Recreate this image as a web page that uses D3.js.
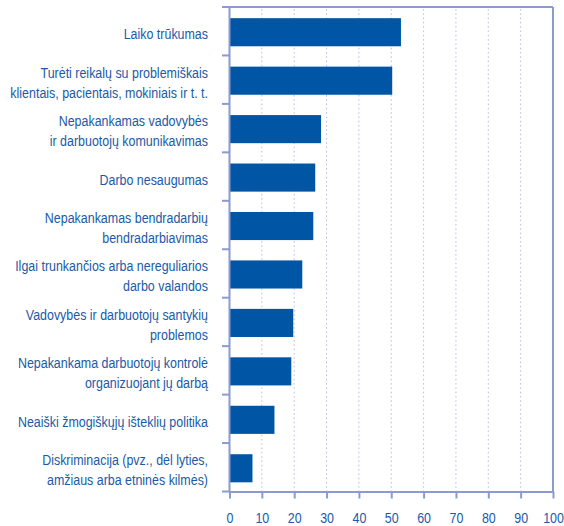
<!DOCTYPE html>
<html>
<head>
<meta charset="utf-8">
<script src="https://cdn.jsdelivr.net/npm/d3@7"></script>
<style>
  html, body { margin: 0; padding: 0; background: #fff; }
  svg text { font-family: "Liberation Sans", Arial, sans-serif; fill: #1b5aa6; }
</style>
</head>
<body>
<svg id="chart" width="564" height="526"></svg>
<script>
const categories = [
  ["Laiko trūkumas"],
  ["Turėti reikalų su problemiškais", "klientais, pacientais, mokiniais ir t. t."],
  ["Nepakankamas vadovybės", "ir darbuotojų komunikavimas"],
  ["Darbo nesaugumas"],
  ["Nepakankamas bendradarbių", "bendradarbiavimas"],
  ["Ilgai trunkančios arba nereguliarios", "darbo valandos"],
  ["Vadovybės ir darbuotojų santykių", "problemos"],
  ["Nepakankama darbuotojų kontrolė", "organizuojant jų darbą"],
  ["Neaiški žmogiškųjų išteklių politika"],
  ["Diskriminacija (pvz., dėl lyties,", "amžiaus arba etninės kilmės)"]
];
const values = [53.0, 50.3, 28.3, 26.5, 25.9, 22.5, 19.7, 19.1, 13.9, 7.1];
const xTicks = [0, 10, 20, 30, 40, 50, 60, 70, 80, 90, 100];

const svg = d3.select("#chart");
const pLeft = 229.5, pRight = 553, pTop = 7, pBottom = 491.5;
const axisColor = "#8b9ad0";
const barColor = "#0055a4";
const squeeze = 0.83;

const x = d3.scaleLinear().domain([0, 100]).range([pLeft, pRight]);
const y = d3.scaleBand().domain(d3.range(categories.length)).range([pTop, pBottom]).paddingInner(0.42).paddingOuter(0.21);
const yb = d3.scaleBand().domain(d3.range(categories.length)).range([pTop, pBottom]);

// gridlines
svg.append("g").selectAll("line").data(xTicks.filter(d => d > 0 && d < 100)).join("line")
  .attr("x1", d => x(d)).attr("x2", d => x(d))
  .attr("y1", pTop + 2).attr("y2", pBottom)
  .attr("stroke", "#b3bbe6").attr("stroke-width", 1).attr("stroke-dasharray", "1.5,2.8");

// bars
svg.append("g").selectAll("rect").data(values).join("rect")
  .attr("x", x(0)).attr("y", (d, i) => y(i) + 1)
  .attr("width", d => x(d) - x(0)).attr("height", y.bandwidth())
  .attr("fill", barColor);

// frame top & right
svg.append("line").attr("x1", pLeft).attr("x2", pRight).attr("y1", pTop).attr("y2", pTop)
  .attr("stroke", axisColor).attr("stroke-width", 2);
svg.append("line").attr("x1", pRight).attr("x2", pRight).attr("y1", pTop).attr("y2", pBottom)
  .attr("stroke", axisColor).attr("stroke-width", 2);

// bottom axis
const xAxis = d3.axisBottom(x).tickValues(xTicks).tickSize(7).tickPadding(13.5).tickSizeOuter(0);
const gx = svg.append("g").attr("transform", `translate(0,${pBottom})`).call(xAxis);
gx.select(".domain").attr("stroke", axisColor).attr("stroke-width", 2);
gx.selectAll(".tick line").attr("stroke", axisColor).attr("stroke-width", 2);
gx.selectAll(".tick text").attr("font-size", 15).attr("font-family", null)
  .attr("transform", `scale(${squeeze},1)`).style("fill", "#1b5aa6");

// left axis line and boundary ticks
svg.append("line").attr("x1", pLeft).attr("x2", pLeft).attr("y1", pTop - 1).attr("y2", pBottom + 1)
  .attr("stroke", axisColor).attr("stroke-width", 2);
const bounds = d3.range(categories.length + 1).map(i => i < categories.length ? yb(i) : pBottom);
svg.append("g").selectAll("line").data(bounds).join("line")
  .attr("x1", pLeft - 7.5).attr("x2", pLeft).attr("y1", d => d).attr("y2", d => d)
  .attr("stroke", axisColor).attr("stroke-width", 2);

// category labels
const labels = svg.append("g").selectAll("text").data(categories).join("text")
  .attr("text-anchor", "end").attr("font-size", 15)
  .attr("transform", (d, i) => `translate(208,${yb(i) + yb.bandwidth() / 2 + 8}) scale(${squeeze},1)`);
labels.selectAll("tspan").data(d => d.map((t, j) => ({t, j, n: d.length}))).join("tspan")
  .attr("x", 0).attr("y", d => (d.j - (d.n - 1) / 2) * 20)
  .text(d => d.t);
</script>
</body>
</html>
